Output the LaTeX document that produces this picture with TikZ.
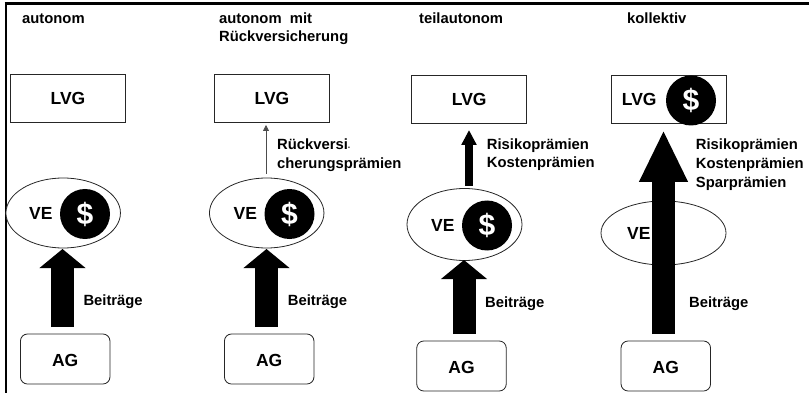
\documentclass[tikz,border=0pt]{standalone}
\usepackage{fontspec}
\setmainfont{Liberation Sans}
\usetikzlibrary{arrows.meta,shapes.geometric}
\tikzset{
  lbl/.style={anchor=base west,inner sep=0pt,font=\fontsize{14.8}{14.8}\selectfont\bfseries},
  big/.style={anchor=base west,inner sep=0pt,font=\fontsize{17.5}{17.5}\selectfont\bfseries},
  lvgbox/.style={draw=black!85,line width=0.8pt,fill=white,minimum width=115pt,minimum height=48pt,inner sep=0pt,
     font=\fontsize{17.5}{17.5}\selectfont\bfseries,text height=14pt,text depth=0pt},
  agbox/.style={draw=black!85,line width=0.8pt,fill=white,rounded corners=7pt,minimum width=89.5pt,minimum height=50pt,inner sep=0pt,
     font=\fontsize{17.5}{17.5}\selectfont\bfseries,text height=14pt,text depth=0pt},
  veell/.style={draw=black!85,line width=0.8pt,fill=white,ellipse,minimum height=70pt,inner sep=0pt},
  coin/.style={circle,fill=black,text=white,minimum size=50pt,inner sep=0pt,font=\fontsize{30}{30}\selectfont\bfseries},
  fatarrow/.style={line width=23pt,-{Triangle[length=19pt,width=45pt]},black},
}
\begin{document}
\begin{tikzpicture}[x=1pt,y=-1pt]
\useasboundingbox (0,0) rectangle (809,393);
% frame
\coordinate (fa) at (4.5,3.5); \coordinate (fb) at (809,3.5); \coordinate (fc) at (5.5,393); \coordinate (fd) at (5.5,3);
\draw[line width=3pt] (fa) -- (fb);
\draw[line width=2pt] (fd) -- (fc);
% headings
\node[lbl] (h1) at (22,24) {autonom};
\node[lbl] (h2a) at (219,24) {autonom\ \ mit};
\node[lbl] (h2b) at (219,42) {Rückversicherung};
\node[lbl] (h3) at (419,24) {teilautonom};
\node[lbl] (h4) at (627,24) {kollektiv};
% LVG
\node[lvgbox] (lvg1) at (68,98) {LVG};
\node[lvgbox] (lvg2) at (272,98) {LVG};
\node[lvgbox] (lvg3) at (469.2,99) {LVG};
\node[lvgbox] (lvg4) at (668.5,99) {};
\node[big] (lvg4t) at (621.7,106) {LVG};
% VE
\node[veell,minimum width=114.5pt] (ve1) at (63.2,213) {};
\node[veell,minimum width=114.5pt] (ve2) at (266.7,213) {};
\node[veell,minimum width=115pt,minimum height=72pt] (ve3) at (464.5,224.5) {};
\node[veell,minimum width=125pt,minimum height=64pt] (ve4) at (663.5,233) {};
\node[big] (ve1t) at (29,219) {VE};
\node[big] (ve2t) at (233.5,219) {VE};
\node[big] (ve3t) at (431,231.7) {VE};
\node[big] (ve4t) at (627,239) {VE};
% coins
\node[coin] (c1) at (85,214) {\raisebox{1.5pt}{\$}};
\node[coin] (c2) at (289.5,214) {\raisebox{1.5pt}{\$}};
\node[coin] (c3) at (487,225.5) {\raisebox{1.5pt}{\$}};
\node[coin] (c4) at (691,100.5) {\raisebox{1.5pt}{\$}};
% AG
\node[agbox] (ag1) at (65.2,359) {AG};
\node[agbox] (ag2) at (269.2,359) {AG};
\node[agbox] (ag3) at (461.5,366) {AG};
\node[agbox] (ag4) at (665.8,366) {AG};
% arrows
\coordinate (a1s) at (62.5,327); \coordinate (a1e) at (62.5,249);
\coordinate (a2s) at (266.5,327); \coordinate (a2e) at (266.5,249);
\coordinate (a3s) at (464,334); \coordinate (a3e) at (464,260);
\coordinate (a4s) at (663.5,334); \coordinate (a4e) at (663.5,130);
\coordinate (b3s) at (469,186); \coordinate (b3e) at (469,130);
\coordinate (r2s) at (266,174); \coordinate (r2e) at (266,125);
\draw[fatarrow] (a1s) -- (a1e);
\draw[fatarrow] (a2s) -- (a2e);
\draw[fatarrow] (a3s) -- (a3e);
\draw[line width=23pt,-{Triangle[length=52pt,width=45pt]}] (a4s) -- (a4e);
\draw[line width=8pt,-{Triangle[length=15pt,width=14.5pt]}] (b3s) -- (b3e);
\draw[line width=0.8pt,black!70,-{Triangle[length=6pt,width=6pt]}] (r2s) -- (r2e);
% labels
\node[lbl] (b1) at (83.3,305.7) {Beiträge};
\node[lbl] (b2) at (287.7,305.7) {Beiträge};
\node[lbl] (b3) at (485,307.7) {Beiträge};
\node[lbl] (b4) at (689,307.7) {Beiträge};
\node[lbl] (r2a) at (277,150) {Rückversi{\fontsize{7}{7}\selectfont -}};
\node[lbl] (r2b) at (277,168) {cherungsprämien};
\node[lbl] (p3a) at (486.7,150) {Risikoprämien};
\node[lbl] (p3b) at (486.7,167.7) {Kostenprämien};
\node[lbl] (p4a) at (695.7,150) {Risikoprämien};
\node[lbl] (p4b) at (695.7,168) {Kostenprämien};
\node[lbl] (p4c) at (695.7,187) {Sparprämien};
\end{tikzpicture}
\end{document}
